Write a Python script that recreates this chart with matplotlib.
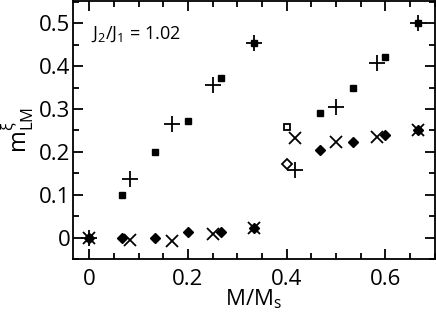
import matplotlib.pyplot as plt
from matplotlib.ticker import MultipleLocator

plt.rcParams['font.family'] = ['Open Sans', 'DejaVu Sans']
plt.rcParams['mathtext.fontset'] = 'custom'
plt.rcParams['mathtext.rm'] = 'Open Sans'
plt.rcParams['mathtext.it'] = 'Open Sans'

# filled squares (open one at M/Ms = 0.4)
sq_x = [0, 0.0667, 0.1333, 0.2, 0.2667, 0.3333, 0.4667, 0.5333, 0.6, 0.6667]
sq_y = [0, 0.100, 0.200, 0.273, 0.372, 0.455, 0.290, 0.349, 0.422, 0.500]
sq_open_x = [0.4]
sq_open_y = [0.258]

# plus markers
pl_x = [0, 0.0833, 0.1667, 0.25, 0.3333, 0.4167, 0.5, 0.5833, 0.6667]
pl_y = [0, 0.136, 0.265, 0.355, 0.455, 0.158, 0.305, 0.407, 0.500]

# filled diamonds (open one at M/Ms = 0.4)
di_x = [0, 0.0667, 0.1333, 0.2, 0.2667, 0.3333, 0.4667, 0.5333, 0.6, 0.6667]
di_y = [0, 0, 0, 0.013, 0.014, 0.022, 0.205, 0.224, 0.240, 0.250]
di_open_x = [0.4]
di_open_y = [0.172]

# x markers
xx_x = [0, 0.0833, 0.1667, 0.25, 0.3333, 0.4167, 0.5, 0.5833, 0.6667]
xx_y = [0, -0.006, -0.008, 0.009, 0.022, 0.232, 0.222, 0.234, 0.250]

fig = plt.figure(figsize=(4.36, 3.13), dpi=100)
ax = fig.add_axes([0.1674, 0.1725, 0.830, 0.824])

ax.plot(sq_x, sq_y, 's', color='k', ms=5)
ax.plot(sq_open_x, sq_open_y, 's', mfc='white', mec='k', mew=1.3, ms=5)
ax.plot(pl_x, pl_y, '+', color='k', ms=12, mew=1.3)
ax.plot(di_x, di_y, 'D', color='k', ms=5.5)
ax.plot(di_open_x, di_open_y, 'D', mfc='white', mec='k', mew=1.3, ms=5)
ax.plot(xx_x, xx_y, 'x', color='k', ms=9, mew=1.3)

ax.set_xlim(-0.033, 0.7)
ax.set_ylim(-0.05, 0.552)
ax.xaxis.set_minor_locator(MultipleLocator(0.05))
ax.yaxis.set_minor_locator(MultipleLocator(0.05))
ax.set_xticks([0, 0.2, 0.4, 0.6])
ax.set_xticklabels(['0', '0.2', '0.4', '0.6'])
ax.set_yticks([0, 0.1, 0.2, 0.3, 0.4, 0.5])
ax.set_yticklabels(['0', '0.1', '0.2', '0.3', '0.4', '0.5'])
ax.tick_params(which='both', direction='in', top=True, right=True,
               width=1.3, labelsize=16)
ax.tick_params(which='major', length=7)
ax.tick_params(which='minor', length=4)
ax.tick_params(axis='x', which='major', pad=7)
ax.tick_params(axis='y', which='major', pad=2)
for s in ax.spines.values():
    s.set_linewidth(1.3)

ax.set_xlabel(r'M/M$_\mathregular{s}$', fontsize=16, labelpad=-2)
ax.set_ylabel(r'm$^{\xi}_\mathregular{LM}$', fontsize=17, labelpad=2)
ax.text(0.095, 0.475, r'J$_\mathregular{2}$/J$_\mathregular{1}$ = 1.02',
        fontsize=13, ha='center', va='center')

fig.savefig('out.png', dpi=100)
